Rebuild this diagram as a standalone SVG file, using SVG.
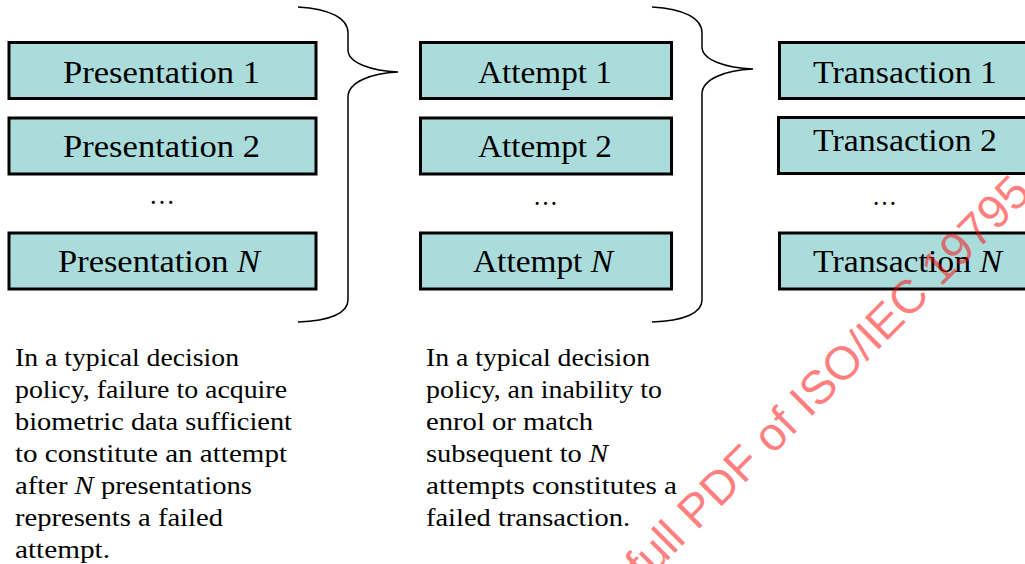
<svg xmlns="http://www.w3.org/2000/svg" width="1025" height="564" viewBox="0 0 1025 564">
<style>
.box{fill:#abdcdc;stroke:#000;stroke-width:3}
.lbl{font-family:"Liberation Serif","Times New Roman",serif;font-size:32px;fill:#000}
.body{font-family:"Liberation Serif","Times New Roman",serif;font-size:25px;fill:#000}
.dots{font-family:"Liberation Serif","Times New Roman",serif;font-size:28px;fill:#000}
.brace{fill:none;stroke:#000;stroke-width:1.5}
.wm{font-family:"Liberation Sans",Arial,sans-serif;font-size:47px;fill:#ff0000;fill-opacity:0.5}
</style>
<rect width="1025" height="564" fill="#fff"/>
<g id="connectors">
<path class="brace" d="M298,7 C330,9 348,18 348,33 L348,50 C348,63 372,71 398,72 C372,73 348,82 348,97 L348,300 C348,313 330,321 298,322"/>
<path class="brace" d="M652,7 C684,9 702,18 702,33 L702,47 C702,60 726,68 753,69 C726,70 702,79 702,94 L702,300 C702,313 684,321 652,322"/>
</g>
<g id="presentation1"><rect class="box" x="9" y="42.5" width="307" height="56"/><text class="lbl" x="63" y="83" textLength="197" lengthAdjust="spacingAndGlyphs">Presentation 1</text></g>
<g id="presentation2"><rect class="box" x="9" y="118" width="307" height="56"/><text class="lbl" x="63" y="157" textLength="197" lengthAdjust="spacingAndGlyphs">Presentation 2</text></g>
<g id="presentationDots"><text class="dots" x="149" y="204" textLength="26" lengthAdjust="spacingAndGlyphs">…</text></g>
<g id="presentationN"><rect class="box" x="9" y="233" width="307" height="56"/><text class="lbl" x="58" y="272" textLength="202" lengthAdjust="spacingAndGlyphs">Presentation <tspan font-style="italic">N</tspan></text></g>
<g id="attempt1"><rect class="box" x="420.5" y="42.5" width="251" height="56"/><text class="lbl" x="478" y="83" textLength="134" lengthAdjust="spacingAndGlyphs">Attempt 1</text></g>
<g id="attempt2"><rect class="box" x="420.5" y="118" width="251" height="56"/><text class="lbl" x="478" y="157" textLength="134" lengthAdjust="spacingAndGlyphs">Attempt 2</text></g>
<g id="attemptDots"><text class="dots" x="533" y="205" textLength="25" lengthAdjust="spacingAndGlyphs">…</text></g>
<g id="attemptN"><rect class="box" x="420.5" y="233" width="251" height="56"/><text class="lbl" x="473" y="272" textLength="140" lengthAdjust="spacingAndGlyphs">Attempt <tspan font-style="italic">N</tspan></text></g>
<g id="transaction1"><rect class="box" x="779.5" y="42.5" width="251" height="56"/><text class="lbl" x="813" y="83" textLength="184" lengthAdjust="spacingAndGlyphs">Transaction 1</text></g>
<g id="transaction2"><rect class="box" x="778.5" y="117.5" width="251" height="56"/><text class="lbl" x="813" y="151" textLength="184" lengthAdjust="spacingAndGlyphs">Transaction 2</text></g>
<g id="transactionDots"><text class="dots" x="872" y="205" textLength="25" lengthAdjust="spacingAndGlyphs">…</text></g>
<g id="transactionN"><rect class="box" x="779.5" y="233" width="251" height="56"/><text class="lbl" x="813" y="272" textLength="189" lengthAdjust="spacingAndGlyphs">Transaction <tspan font-style="italic">N</tspan></text></g>
<g id="note-left">
<text class="body" x="15" y="366" textLength="224" lengthAdjust="spacingAndGlyphs">In a typical decision</text>
<text class="body" x="15" y="398" textLength="272" lengthAdjust="spacingAndGlyphs">policy, failure to acquire</text>
<text class="body" x="15" y="430" textLength="277" lengthAdjust="spacingAndGlyphs">biometric data sufficient</text>
<text class="body" x="15" y="462" textLength="272" lengthAdjust="spacingAndGlyphs">to constitute an attempt</text>
<text class="body" x="15" y="494" textLength="237" lengthAdjust="spacingAndGlyphs">after <tspan font-style="italic">N</tspan> presentations</text>
<text class="body" x="15" y="526" textLength="208" lengthAdjust="spacingAndGlyphs">represents a failed</text>
<text class="body" x="15" y="558" textLength="95" lengthAdjust="spacingAndGlyphs">attempt.</text>
</g>
<g id="note-right">
<text class="body" x="426" y="366" textLength="224" lengthAdjust="spacingAndGlyphs">In a typical decision</text>
<text class="body" x="426" y="398" textLength="236" lengthAdjust="spacingAndGlyphs">policy, an inability to</text>
<text class="body" x="426" y="430" textLength="167" lengthAdjust="spacingAndGlyphs">enrol or match</text>
<text class="body" x="426" y="462" textLength="182" lengthAdjust="spacingAndGlyphs">subsequent to <tspan font-style="italic">N</tspan></text>
<text class="body" x="426" y="494" textLength="251" lengthAdjust="spacingAndGlyphs">attempts constitutes a</text>
<text class="body" x="426" y="526" textLength="204" lengthAdjust="spacingAndGlyphs">failed transaction.</text>
</g>
<g id="watermark"><text class="wm" transform="translate(645,583) rotate(-45)">full PDF of ISO/IEC 19795</text></g>
</svg>
